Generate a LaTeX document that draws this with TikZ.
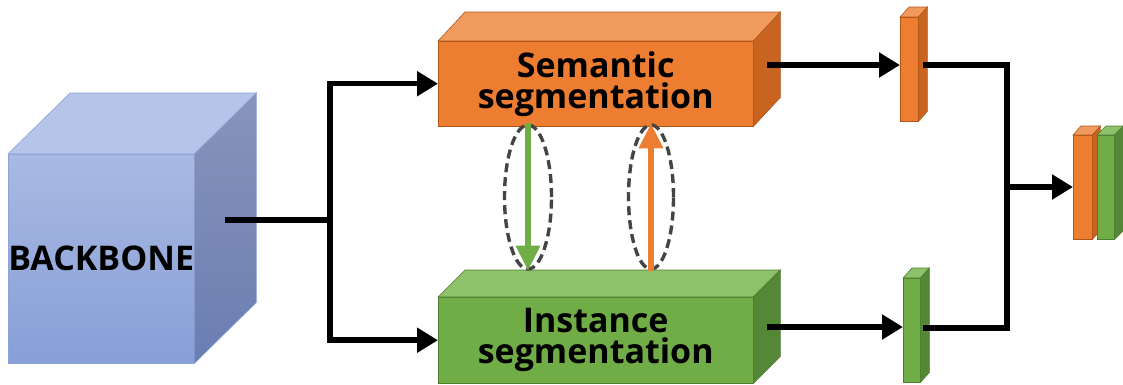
\documentclass[tikz,border=0pt]{standalone}
\usepackage{fontspec}
\setmainfont{Open Sans}
\usetikzlibrary{arrows.meta,shapes.geometric}

\definecolor{orfront}{HTML}{ED7D31}
\definecolor{ortop}{HTML}{F19A5E}
\definecolor{orside}{HTML}{C8641F}
\definecolor{oredge}{HTML}{B0561A}
\definecolor{grfront}{HTML}{70AD47}
\definecolor{grtop}{HTML}{8DC26A}
\definecolor{grside}{HTML}{558836}
\definecolor{gredge}{HTML}{4F7D30}
\definecolor{blfronttop}{HTML}{A9B9E2}
\definecolor{blfrontbot}{HTML}{879FD7}
\definecolor{bltop}{HTML}{B5C4E8}
\definecolor{blsidetop}{HTML}{8894BA}
\definecolor{blsidebot}{HTML}{6B7DB2}
\definecolor{bledge}{HTML}{8EA4D8}
\definecolor{ringgray}{HTML}{444444}

\tikzset{
  orange front/.style={fill=orfront, draw=oredge},
  orange top/.style={fill=ortop, draw=oredge},
  orange side/.style={fill=orside, draw=oredge},
  green front/.style={fill=grfront, draw=gredge},
  green top/.style={fill=grtop, draw=gredge},
  green side/.style={fill=grside, draw=gredge},
  blue front/.style={top color=blfronttop, bottom color=blfrontbot, draw=bledge},
  blue top/.style={fill=bltop, draw=bledge},
  blue side/.style={top color=blsidetop, bottom color=blsidebot, draw=bledge},
  label font/.style={font=\fontsize{34}{31}\selectfont\bfseries, align=center},
  conn/.style={line width=5.5pt, draw=black, line join=miter},
  tip/.style={-{Triangle[width=24pt,length=21pt]}},
  ring/.style={draw=ringgray, line width=3.4pt, dash pattern=on 9pt off 5pt,
    ellipse, inner sep=0pt},
  flow/.style={line width=6.5pt},
}

% cuboid: name, left x, top y, width, height, depth dx, depth dy, colour prefix, text
\newcommand\cuboid[9]{%
  \node[#8 front, minimum width=#4pt, minimum height=#5pt, inner sep=0pt,
        anchor=north west, label font] (#1) at (#2,#3) {#9};
  \path[#8 top, line width=0.6pt] (#1.north west) -- ++(#6,-#7)
    -- ([shift={(#6,-#7)}]#1.north east) -- (#1.north east) -- cycle;
  \path[#8 side, line width=0.6pt] (#1.north east) -- ++(#6,-#7)
    -- ([shift={(#6,-#7)}]#1.south east) -- (#1.south east) -- cycle;
}

\begin{document}
\begin{tikzpicture}[x=1pt, y=-1pt]
  \useasboundingbox (0,0) rectangle (1123,384);

  % backbone block
  \cuboid{bb}{8}{154}{186}{209}{62}{61}{blue}{BACKBONE}

  % the two heads
  \cuboid{sem}{438}{41}{315}{85}{27}{29}{orange}{Semantic\\segmentation}
  \cuboid{inst}{438}{297}{315}{86}{27}{27}{green}{Instance\\segmentation}

  % per-head outputs
  \cuboid{sbar}{900}{17}{18}{104}{9}{10}{orange}{}
  \cuboid{ibar}{903}{278}{17}{104}{9}{10}{green}{}

  % fused output
  \cuboid{fo}{1073}{135}{19}{104}{8}{9}{orange}{}
  \cuboid{fg}{1097}{135}{17}{104}{9}{9}{green}{}

  % information exchange between the heads
  \node[ring, minimum width=47pt, minimum height=144pt] (e1) at (528,197) {};
  \node[ring, minimum width=45pt, minimum height=144pt] (e2) at (651,197) {};
  \draw[flow, draw=grfront, -{Triangle[width=23pt,length=25pt,fill=grfront]}] (e1.north) -- (e1.south);
  \draw[flow, draw=orfront, -{Triangle[width=23pt,length=25pt,fill=orfront]}] (e2.south) -- (e2.north);

  % connectors
  \coordinate (bbout) at (225,220);
  \coordinate (split) at (330,220);
  \coordinate (semout) at (767,65);
  \coordinate (instout) at (767,327);
  \coordinate (sbarout) at (923,65);
  \coordinate (ibarout) at (923,328);
  \coordinate (join) at (1007,187);

  \draw[conn] (bbout) -- (split);
  \draw[conn, tip] (split) |- (sem.west);
  \draw[conn, tip] (split) |- (inst.west);
  \draw[conn, tip] (semout) -- (semout -| sbar.west);
  \draw[conn, tip] (instout) -- (instout -| ibar.west);
  \draw[conn] (sbarout) -| (join) |- (ibarout);
  \draw[conn, tip] (join) -- (join -| fo.west);
\end{tikzpicture}
\end{document}
